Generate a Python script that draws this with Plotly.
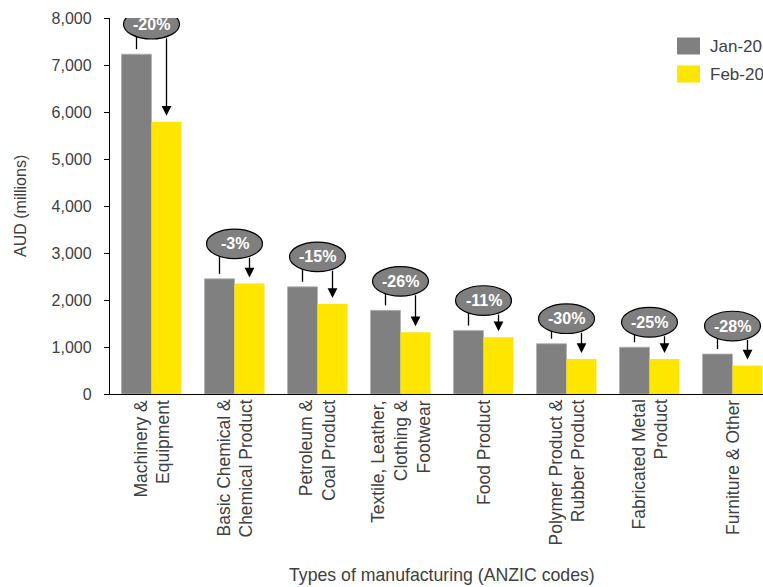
import plotly.graph_objects as go

# ---------------- data ----------------
categories = [
    "Machinery &<br>Equipment",
    "Basic Chemical &<br>Chemical Product",
    "Petroleum &<br>Coal Product",
    "Textile, Leather,<br>Clothing &<br>Footwear",
    "Food Product",
    "Polymer Product &<br>Rubber Product",
    "Fabricated Metal<br>Product",
    "Furniture & Other",
]
jan_20 = [7230, 2450, 2280, 1780, 1350, 1070, 995, 850]
feb_20 = [5790, 2350, 1915, 1315, 1205, 745, 745, 605]
change_labels = ["-20%", "-3%", "-15%", "-26%", "-11%", "-30%", "-25%", "-28%"]
series_names = ["Jan-20", "Feb-20"]
y_ticks = [0, 1000, 2000, 3000, 4000, 5000, 6000, 7000, 8000]

# ---------------- style ----------------
W, H = 763, 587
ML, MR, MT, MB = 110, 0, 18, 193
GRAY = "#808080"
YELLOW = "#FFE600"
TXT = "#404040"
FONT = "Liberation Sans, Arial, sans-serif"
Y_MAX = 8000
PLOT_H = H - MT - MB
PX_PER_UNIT = PLOT_H / Y_MAX
CAT_PX = 83.0
X_RANGE = [-0.5, -0.5 + (W - ML - MR) / CAT_PX]
BARGAP = 0.277
OFF = (1 - BARGAP) / 4          # bar centre offset from category centre
ELL_HALF_W = 28 / CAT_PX
ELL_HALF_H = 14.8               # px
LIFT = [30, 35, 30, 29, 30, 25, 25, 28]   # px: bubble centre above Jan bar

xs = list(range(len(categories)))

fig = go.Figure()
fig.add_trace(go.Bar(x=xs, y=jan_20, name=series_names[0], marker_color=GRAY,
                     marker_line=dict(color="#b0b0b0", width=0.8),
                     showlegend=False))
fig.add_trace(go.Bar(x=xs, y=feb_20, name=series_names[1], marker_color=YELLOW,
                     marker_line=dict(width=0), showlegend=False))

shapes = []
annotations = []
for i in xs:
    lift = LIFT[i]
    # left connector to Jan bar
    shapes.append(dict(type="line", xref="x", yref="y", ysizemode="pixel",
                       yanchor=jan_20[i], x0=i - OFF, x1=i - OFF,
                       y0=5, y1=lift, line=dict(color="black", width=1.3),
                       layer="above"))
    # bubble
    shapes.append(dict(type="circle", xref="x", yref="y", ysizemode="pixel",
                       yanchor=jan_20[i], x0=i - ELL_HALF_W, x1=i + ELL_HALF_W,
                       y0=lift - ELL_HALF_H, y1=lift + ELL_HALF_H,
                       fillcolor="#7f7f7f", line=dict(color="black", width=1.2),
                       layer="above"))
    # label
    annotations.append(dict(x=i, y=jan_20[i], xref="x", yref="y", yshift=lift,
                            text="<b>%s</b>" % change_labels[i], showarrow=False,
                            font=dict(family=FONT, size=16, color="white"),
                            xanchor="center", yanchor="middle"))
    # arrow to Feb bar
    tail_px = lift - ELL_HALF_H * (1 - (15 / 28) ** 2) ** 0.5
    annotations.append(dict(x=i + OFF, y=feb_20[i], xref="x", yref="y",
                            axref="x", ayref="y", ax=i + OFF,
                            ay=jan_20[i] + tail_px / PX_PER_UNIT,
                            text="", showarrow=True, arrowhead=2, arrowsize=1.5,
                            arrowwidth=1.3, arrowcolor="black", standoff=6))

def px2paper_x(px):
    return (px - ML) / (W - ML - MR)

def px2paper_y(py):
    return (H - MB - py) / PLOT_H

# category labels (top-aligned multi-line, rotated)
for i in xs:
    annotations.append(dict(x=i, y=px2paper_y(398), xref="x", yref="paper",
                            text=categories[i], textangle=-90, align="right",
                            showarrow=False, xanchor="center", yanchor="top",
                            font=dict(family=FONT, size=17.5, color=TXT)))

# legend (drawn)
legend_rows = [(series_names[0], GRAY, 46), (series_names[1], YELLOW, 74)]
for name, col, cy in legend_rows:
    shapes.append(dict(type="rect", xref="paper", yref="paper",
                       x0=px2paper_x(677), x1=px2paper_x(700),
                       y0=px2paper_y(cy + 8.5), y1=px2paper_y(cy - 8.5),
                       fillcolor=col, line=dict(width=0)))
    annotations.append(dict(x=px2paper_x(708), y=px2paper_y(cy), xref="paper",
                            yref="paper", text=name, showarrow=False,
                            xanchor="left", yanchor="middle",
                            font=dict(family=FONT, size=17, color=TXT)))

# axis titles
annotations.append(dict(x=px2paper_x(20), y=px2paper_y(206), xref="paper",
                        yref="paper", text="AUD (millions)", textangle=-90,
                        showarrow=False, xanchor="center", yanchor="middle",
                        font=dict(family=FONT, size=16, color=TXT)))
annotations.append(dict(x=px2paper_x(442), y=px2paper_y(575), xref="paper",
                        yref="paper", text="Types of manufacturing (ANZIC codes)",
                        showarrow=False, xanchor="center", yanchor="middle",
                        font=dict(family=FONT, size=17.7, color=TXT)))

fig.update_layout(
    width=W, height=H,
    margin=dict(l=ML, r=MR, t=MT, b=MB, pad=0),
    paper_bgcolor="white", plot_bgcolor="white",
    barmode="group", bargap=BARGAP, bargroupgap=0,
    shapes=shapes, annotations=annotations,
    showlegend=False,
    font=dict(family=FONT, color=TXT),
)
fig.update_xaxes(range=X_RANGE, tickmode="array", tickvals=xs,
                 showticklabels=False, showgrid=False,
                 showline=True, linecolor="black", linewidth=1.3,
                 ticks="", zeroline=False)
fig.update_yaxes(range=[0, Y_MAX], tickmode="array", tickvals=y_ticks,
                 tickformat=",", showgrid=False, showline=True,
                 linecolor="black", linewidth=1.3, ticks="outside", ticklen=5,
                 tickcolor="black", ticklabelstandoff=9,
                 tickfont=dict(family=FONT, size=16, color=TXT),
                 zeroline=False)

fig.write_html("out.html")
